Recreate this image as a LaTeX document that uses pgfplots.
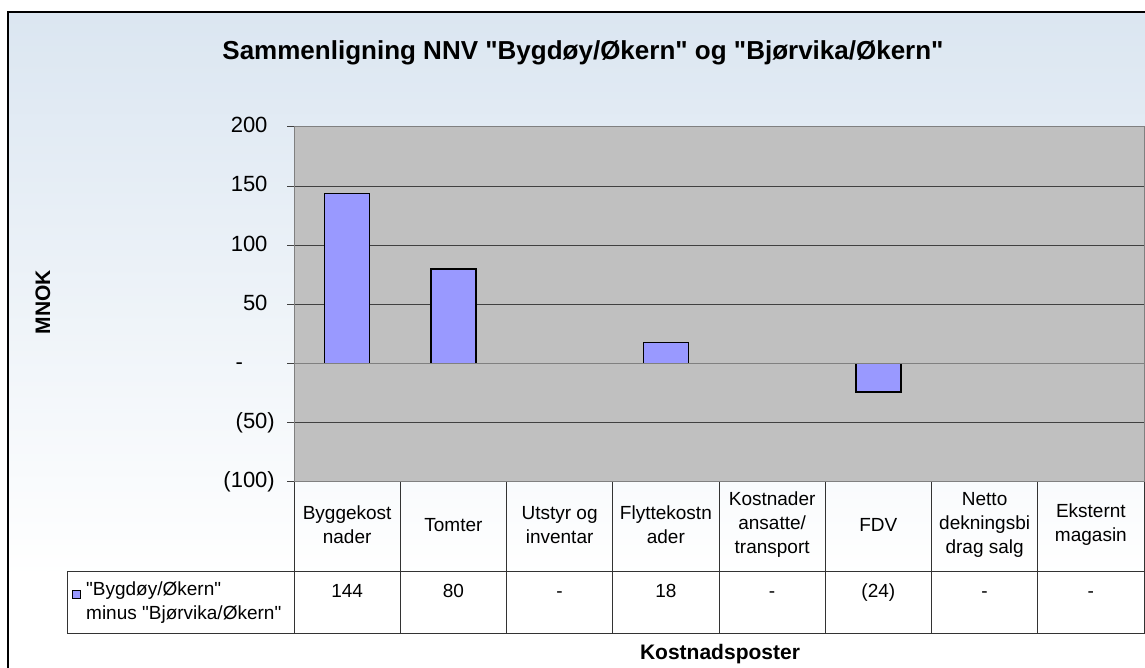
\documentclass[border=0pt]{standalone}
\usepackage{pgfplots}
\pgfplotsset{compat=1.18}
\usepackage{fontspec}
\setmainfont{Liberation Sans}[Ligatures=TeXOff]
\definecolor{barfill}{HTML}{9999FF}
\definecolor{plotbg}{HTML}{C0C0C0}
\definecolor{bgblue}{HTML}{DBE6F1}
\definecolor{gridc}{HTML}{404040}
\definecolor{axisc}{HTML}{808080}
\newcommand{\fsz}{\fontsize{19}{24}\selectfont}
\newcommand{\tsz}{\fontsize{22}{24}\selectfont}

\pgfplotstableread{
x y
0 144
1 80
3 18
5 -24
}\diffdata

\begin{document}
\begin{tikzpicture}[x=1pt,y=1pt]
\path[use as bounding box] (0,0) rectangle (1145,668);
\clip (0,0) rectangle (1145,668);
\shade[top color=bgblue, bottom color=white] (8,90) rectangle (1160,656);
\fill[white] (8,-10) rectangle (1160,90);
\fill[white] (67,34) rectangle (1144,96);
\draw[line width=1.5pt] (8,-10) -- (8,656) -- (1160,656);
\node[font=\fontsize{26}{28}\selectfont\bfseries] at (583,615) {Sammenligning NNV "Bygdøy/Økern" og "Bjørvika/Økern"};
\node[font=\fontsize{21}{24}\selectfont\bfseries, rotate=90] at (43,366) {MNOK};
\node[font=\fontsize{21}{24}\selectfont\bfseries] at (720,14) {Kostnadsposter};
\begin{axis}[
  at={(294pt,186pt)}, anchor=south west,
  scale only axis, width=850pt, height=355pt,
  xmin=-0.5, xmax=7.5, ymin=-100, ymax=200,
  axis background/.style={fill=plotbg},
  axis line style={axisc, line width=1pt},
  ytick={-100,-50,0,50,100,150,200},
  yticklabels={(100),(50),{-\phantom{00)}},{50\phantom{)}},{100\phantom{)}},{150\phantom{)}},{200\phantom{)}}},
  yticklabel style={font=\tsz, anchor=east, inner sep=0pt, xshift=-12pt},
  ytick align=outside, major tick length=7pt,
  ytick style={gridc, line width=1pt},
  ymajorgrids, grid style={gridc, line width=1pt},
  xtick={0,...,7},
  xticklabels={{Byggekost\\nader},Tomter,{Utstyr og\\inventar},{Flyttekostn\\ader},{Kostnader\\ansatte/\\transport},FDV,{Netto\\dekningsbi\\drag salg},{Eksternt\\magasin}},
  xticklabel style={font=\fsz, align=center, anchor=center, inner sep=0pt, yshift=-43pt},
  xtick style={draw=none},
  clip=false,
]
\addplot[ybar, bar width=45pt, fill=barfill, draw=black, line width=1.5pt] table[x=x,y=y] {\diffdata};
\draw[axisc, line width=1pt] (axis cs:-0.5,0) -- (axis cs:7.5,0);
\end{axis}
% data table grid
\draw[black!80, line width=1pt] (67,96) -- (1144,96) (67,34) -- (1144,34) (67,34) -- (67,96);
\foreach \k in {0,...,8} \draw[black!80, line width=1pt] ({294+\k*106.25},186) -- ({294+\k*106.25},34);
\foreach \v [count=\i from 0] in {144,80,-,18,-,(24),-,-}
  \node[font=\fsz, anchor=base, inner sep=0pt] at ({294+(\i+0.5)*106.25},70) {\v};
\node[draw=black, fill=barfill, minimum size=8pt, inner sep=0pt, line width=0.8pt] at (76,74) {};
\node[font=\fsz, anchor=west, inner sep=0pt] at (86,77) {"Bygdøy/Økern"};
\node[font=\fsz, anchor=west, inner sep=0pt] at (86,53) {minus "Bjørvika/Økern"};
\end{tikzpicture}
\end{document}
